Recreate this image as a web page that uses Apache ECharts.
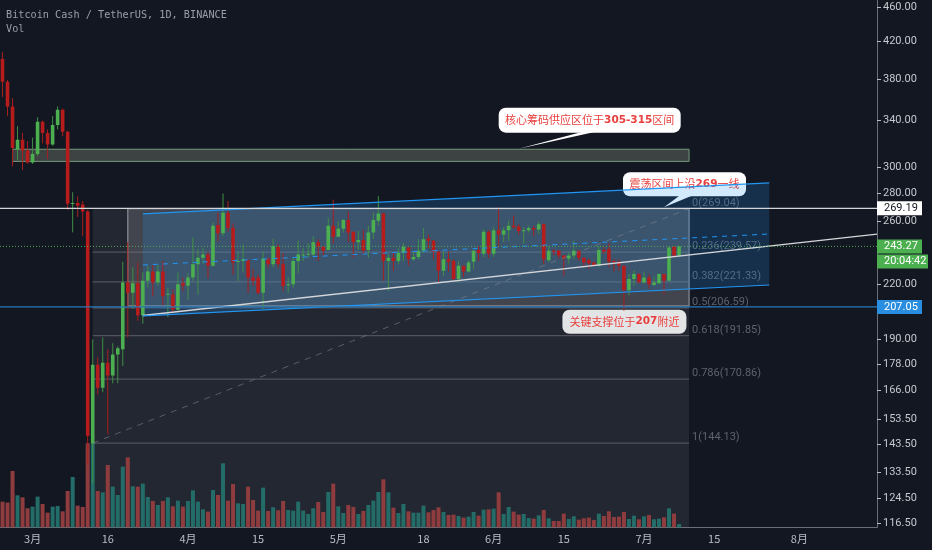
<!DOCTYPE html>
<html>
<head>
<meta charset="utf-8">
<style>html,body{margin:0;padding:0;background:#131722}#chart{width:932px;height:550px}</style>
<script src="https://cdn.jsdelivr.net/npm/echarts@6/dist/echarts.min.js"></script>
</head>
<body>
<div id="chart"></div>
<script>
// BCH/USDT daily, values
const opens = [400.5,377,353,315,323,314,304,311,339,329,319,336,350,330,272.5,273,272,267,144,177.5,167,178.5,172.5,182.5,185,221,215,220.5,202.5,222,227.5,221,227.5,214,214,205.5,220.5,219,224,232,236,238,231,257.5,252,266,255.5,233.5,234,234.5,224,224,215,235.5,232,243,232,219.5,220,234,237.5,238,238,246,243,241,257,249.5,255,261,253,246,247.5,241,252.5,260.5,265.5,234,236,234,239,242.5,235,236.5,240.5,248.5,247,240,228,235,234,223,231,227.5,233.5,241,238.5,253,238.5,254,251,254,257,256.5,253.5,254,255.5,254.5,258,234.5,240.5,240.5,237.5,235.5,237.5,240.5,236,234.5,233,231,241,241.5,234,233.5,231,216.5,223,226,221,224,219.5,220.5,226,222,243,237.5];
const highs = [408,379,361,335,329,322,325,343,340,332,344,353,351,331,281,278,274.5,268,190,181,191,185,188,186.5,233.5,246,230,233,227,231,231.5,231.5,234,218,217,227,224,226.5,249,241.5,242,240,259.5,266,280,274.5,258.5,240,244.5,234.8,229,226,240,236,248,244.5,239,224,236,247,242,245.5,250,248,243.5,262.5,275.5,260,261.5,267,253,253.5,254,257,266,278,266,238.5,239,242,245.5,243.5,240,248,255.5,251,247.5,240,240,240,235,234,231,234.5,241,243.5,254.5,254,256,270,256,260.5,264,258,256,257,257,260,258.5,243.5,241.5,241,237.5,239.5,247,240.5,236,235.5,233.5,243.5,243,245.5,235,235,231,226,228,226.5,227.5,226,224.5,226.5,226,243.5,243.5,244];
const lows = [362,344,301,306,298,303,303,309,320,307,318,332,326,268,252.5,263,250,136,129.5,164,165,147.5,169,169,177,191,206,199.5,198,218,213,219,208,201.5,204,205,216,211,222,214,232,223.5,230.5,246.5,250,253,225.5,221.8,227,215,219,214,206,229.5,230,229.5,216,215,218,226.5,234,236,237,234,237,241,245,249.5,252.5,246,236,241,238,236,248,257,222,216,228,232,234,231,234,235,239,242,235,221,225,227.5,222,221,224,227,229,234,236.5,236,236.5,242.5,246,247,255,251,245,252.5,250,251.5,232,233.5,237.5,235.5,225,232.5,235,234,231,229,230.5,230.5,238.5,230,227.5,228,205,213.5,219,221,220.5,217.5,219,220,214.5,222,236,236.5];
const closes = [377,353,316,323,314,304,311,339,329,319,336,350,330,272.5,273,271,267,147,177.5,167,178.5,172.5,182.5,185.5,221,215,220.5,202.5,222,227.5,221,227.5,213,214.5,205.5,220,219,224,232,236,238,231,257,252,266,255.5,233,234,235,224,222,215,235.5,232,243.5,232,219,220,234,238,238,238.5,246,243,240.5,257,249.5,255,261,252.5,246,247.5,240.5,252.5,261,265.5,234,236,234,239,243,235,236.5,240.5,248,247,240,228,235,233.5,223,231,227.5,233,240.5,239,253,238.5,254,251,254,257,256,253.5,254,255.5,254.5,258,235,240.5,240,237.5,235.5,237.5,240.5,236,233,232.5,231,241,240,233.5,233.5,231,216.5,223,226,221,224,220,221,226,222,242.5,237.5,243.27];
const volumes = [77,74,169,96,90,57,62,92,70,44,62,64,48,109,151,65,61,252,252,109,105,187,122,97,182,210,123,122,131,91,79,67,79,90,63,80,62,79,111,77,54,47,112,97,192,80,130,72,70,122,82,50,119,49,60,51,79,52,50,77,50,40,57,76,46,106,131,63,43,67,61,40,49,67,80,106,144,105,59,43,70,48,44,44,65,45,52,60,46,37,38,34,29,32,46,35,53,54,56,105,40,61,47,38,40,28,26,36,52,27,19,19,41,25,33,23,27,29,22,41,34,48,31,32,46,25,35,24,33,37,24,26,30,57,41,10];
const monthDays = [[2,24,29],[3,1,31],[4,1,30],[5,1,31],[6,1,30],[7,1,31],[8,1,16]];
const tickLabels = {'3-1':'3月','3-16':'16','4-1':'4月','4-15':'15','5-1':'5月','5-18':'18','6-1':'6月','6-15':'15','7-1':'7月','7-15':'15','8-1':'8月'};
const priceTicks = [460,420,380,340,300,280,260,220,190,178,166,153.5,143.5,133.5,124.5,116.5];
const fibRatios = ['0','0.236','0.382','0.5','0.618','0.786','1'];
const fibPrices = [269.04,239.57,221.33,206.59,191.85,170.86,144.13];
const supplyZone = [305,315];
const channelTop = [265.2,288];
const channelMid = [231.5,251.4];
const channelBottom = [202.2,219.5];
const trendLine = [202.4,237.8];
const highLevel = 269.19;
const lastPrice = 243.27;
const supportLevel = 207.05;
const countdown = '20:04:42';

const FIB_START = 18, RECT_START = 25, CHANNEL_START = 28, DRAW_END = 137, CHANNEL_END = 153;
const UP = '#4caf50', DOWN = '#b71c1c', UP_WICK = '#3f8f45', DOWN_WICK = '#a81f1f';
const MONO = '"DejaVu Sans Mono", monospace';
const AXIS_FONT = 'Roboto, sans-serif';
const CJK = '"Noto Sans CJK SC", sans-serif';

const categories = [];
monthDays.forEach(m => {
  for (let d = m[1]; d <= m[2]; d++) categories.push(m[0] + '-' + d);
});

function line(api, a, b, style) {
  const p = api.coord(a), q = api.coord(b);
  return {type: 'line', shape: {x1: p[0], y1: p[1], x2: q[0], y2: q[1]}, style: Object.assign({fill: null}, style)};
}

function box(api, x1, x2, priceA, priceB, style) {
  const p = api.coord([x1, priceA]), q = api.coord([x2, priceB]);
  return {type: 'rect', shape: {x: p[0], y: p[1], width: q[0] - p[0], height: q[1] - p[1]}, style: style};
}

function callout(tip, rect, base, fill, text) {
  const els = [];
  if (base) {
    els.push({type: 'polygon', shape: {points: [[tip[0] + base[0], tip[1] + rect[1] + rect[3] - 1], [tip[0] + base[1], tip[1] + rect[1] + rect[3] - 1], tip]}, style: {fill: fill}});
  }
  els.push({type: 'rect', shape: {x: tip[0] + rect[0], y: tip[1] + rect[1], width: rect[2], height: rect[3], r: 7}, style: {fill: fill}});
  els.push({type: 'text', style: {
    x: tip[0] + rect[0] + rect[2] / 2, y: tip[1] + rect[1] + rect[3] / 2,
    text: text, align: 'center', verticalAlign: 'middle',
    rich: {
      a: {font: '11px ' + CJK, fill: '#e8403c'},
      b: {font: 'bold 10.5px "DejaVu Sans", sans-serif', fill: '#e8403c'}
    }
  }});
  return els;
}

// everything that sits behind the candles
function renderBack(params, api) {
  const cs = params.coordSys;
  const children = [];
  const fibLeft = api.coord([FIB_START, highLevel]);
  const right = api.coord([DRAW_END, highLevel]);
  children.push({type: 'rect', shape: {x: fibLeft[0], y: right[1], width: right[0] - fibLeft[0], height: cs.y + cs.height - right[1]}, style: {fill: 'rgba(255,255,255,0.07)'}});
  children.push(box(api, RECT_START, DRAW_END, fibPrices[0], supportLevel + 0.6, {fill: 'rgba(255,255,255,0.14)', stroke: '#85878d', lineWidth: 1.3}));
  fibPrices.forEach((p, i) => {
    if (i > 0) children.push(line(api, [FIB_START, p], [DRAW_END, p], {stroke: 'rgba(125,127,135,0.5)', lineWidth: 1.2}));
    const c = api.coord([DRAW_END, p]);
    children.push({type: 'text', style: {x: c[0] + 3, y: c[1] - 5.5, text: fibRatios[i] + '(' + p.toFixed(2) + ')', font: '11px ' + AXIS_FONT, fill: '#5e626c', align: 'left', verticalAlign: 'middle'}});
  });
  children.push(box(api, 2, DRAW_END, supplyZone[1], supplyZone[0], {fill: 'rgba(140,150,125,0.35)', stroke: '#76997a', lineWidth: 1}));

  children.push(...callout(api.coord([103, 315.5]), [-20, -41, 182, 25], [64, 77], '#ffffff',
    '{a|核心筹码供应区位于}{b|305-315}{a|区间}'));
  children.push(...callout(api.coord([132, 270]), [-41, -35, 123, 24], [16, 29], '#ffffff',
    '{a|震荡区间上沿}{b|269}{a|一线}'));
  children.push(...callout(api.coord([124, 205]), [-61.5, -1, 124, 24], null, '#e3e4e5',
    '{a|关键支撑位于}{b|207}{a|附近}'));

  // rising channel goes over the callouts
  children.push({type: 'polygon', shape: {points: [
    api.coord([CHANNEL_START, channelTop[0]]), api.coord([CHANNEL_END, channelTop[1]]),
    api.coord([CHANNEL_END, channelBottom[1]]), api.coord([CHANNEL_START, channelBottom[0]])
  ]}, style: {fill: 'rgba(33,150,243,0.2)'}});
  return {type: 'group', children: children};
}

function renderCandle(params, api) {
  const x = api.value(0), o = api.value(1), c = api.value(2), l = api.value(3), h = api.value(4);
  const up = c >= o;
  const top = api.coord([x, Math.max(o, c)]), bottom = api.coord([x, Math.min(o, c)]);
  const hi = api.coord([x, h]), lo = api.coord([x, l]);
  const w = 3.6;
  return {type: 'group', children: [
    {type: 'line', shape: {x1: hi[0], y1: hi[1], x2: lo[0], y2: lo[1]}, style: {stroke: up ? UP_WICK : DOWN_WICK, lineWidth: 1}},
    {type: 'rect', shape: {x: top[0] - w / 2, y: top[1], width: w, height: Math.max(bottom[1] - top[1], 1)}, style: {fill: up ? UP : DOWN}}
  ]};
}

// lines and price badges on top of the candles
function renderFront(params, api) {
  const cs = params.coordSys;
  const right = cs.x + cs.width;
  const children = [];
  const leftP = api.coord([CHANNEL_START, trendLine[0]]), rightP = api.coord([DRAW_END, trendLine[1]]);
  const slope = (rightP[1] - leftP[1]) / (rightP[0] - leftP[0]);
  children.push({type: 'line', shape: {x1: leftP[0], y1: leftP[1], x2: right, y2: leftP[1] + slope * (right - leftP[0])}, style: {stroke: '#d4d6da', lineWidth: 1.3}});
  children.push(line(api, [FIB_START, fibPrices[6]], [DRAW_END, fibPrices[0]], {stroke: 'rgba(135,137,142,0.55)', lineWidth: 1, lineDash: [6, 6]}));
  children.push(line(api, [CHANNEL_START, channelTop[0]], [CHANNEL_END, channelTop[1]], {stroke: '#2196f3', lineWidth: 1.2}));
  children.push(line(api, [CHANNEL_START, channelBottom[0]], [CHANNEL_END, channelBottom[1]], {stroke: '#2196f3', lineWidth: 1.2}));
  children.push(line(api, [CHANNEL_START, channelMid[0]], [CHANNEL_END, channelMid[1]], {stroke: '#2196f3', lineWidth: 1, lineDash: [5, 5]}));

  const hy = api.coord([0, highLevel])[1], ly = api.coord([0, lastPrice])[1], sy = api.coord([0, supportLevel])[1];
  children.push({type: 'line', shape: {x1: cs.x, y1: hy, x2: right, y2: hy}, style: {stroke: '#d4d6da', lineWidth: 1.3}});
  children.push({type: 'line', shape: {x1: cs.x, y1: ly, x2: right, y2: ly}, style: {stroke: '#4caf50', lineWidth: 1, lineDash: [1, 2]}});
  children.push({type: 'line', shape: {x1: cs.x, y1: sy, x2: right, y2: sy}, style: {stroke: '#2a78b8', lineWidth: 1.2}});

  const badge = (y, w, fill, color, text) => {
    children.push({type: 'rect', shape: {x: right, y: y - 7, width: w, height: 14}, style: {fill: fill}});
    children.push({type: 'text', style: {x: right + 7, y: y, text: text, font: '11px ' + AXIS_FONT, fill: color, align: 'left', verticalAlign: 'middle'}});
  };
  badge(hy, 45, '#ffffff', '#131722', highLevel.toFixed(2));
  badge(ly, 45, UP, '#ffffff', lastPrice.toFixed(2));
  badge(ly + 15, 51, UP, '#ffffff', countdown);
  badge(sy, 45, '#2a8ee0', '#ffffff', supportLevel.toFixed(2));
  return {type: 'group', children: children};
}

const chart = echarts.init(document.getElementById('chart'));
const candleRows = opens.map((o, i) => [i, o, closes[i], lows[i], highs[i]]);
const volumeRows = volumes.map((v, i) => ({
  value: v,
  itemStyle: {color: closes[i] >= opens[i] ? '#246c68' : '#8f3c3e'}
}));

chart.setOption({
  animation: false,
  backgroundColor: '#131722',
  title: {
    text: 'Bitcoin Cash / TetherUS, 1D, BINANCE',
    subtext: 'Vol',
    left: 6, top: 9, itemGap: 2, padding: 0,
    textStyle: {fontFamily: MONO, fontSize: 10.2, fontWeight: 'normal', color: '#9a9ea8', lineHeight: 12},
    subtextStyle: {fontFamily: MONO, fontSize: 10.2, color: '#9a9ea8', lineHeight: 12}
  },
  grid: {left: -1.3, right: 55, top: 0, bottom: 22.7},
  xAxis: {
    type: 'category',
    data: categories,
    axisLine: {lineStyle: {color: '#6b6e76'}},
    axisTick: {alignWithLabel: true, length: 4, lineStyle: {color: '#6b6e76'}, interval: (i, v) => !!tickLabels[v]},
    axisLabel: {
      interval: (i, v) => !!tickLabels[v],
      formatter: v => tickLabels[v] || '',
      color: '#b9bcc4', fontSize: 11, fontFamily: CJK, margin: 6
    },
    splitLine: {show: false}
  },
  yAxis: [{
    type: 'log',
    position: 'right',
    min: 115.2,
    max: 468.6,
    axisLine: {show: true, lineStyle: {color: '#6b6e76'}},
    axisTick: {show: true, length: 4, customValues: priceTicks, lineStyle: {color: '#b9bcc4'}},
    axisLabel: {customValues: priceTicks, formatter: v => Number(v).toFixed(2), color: '#c6c8cd', fontSize: 11, fontFamily: AXIS_FONT, margin: 6},
    splitLine: {show: false}
  }, {
    type: 'value',
    min: 0,
    max: 1582,
    show: false
  }],
  series: [
    {type: 'custom', z: 1, silent: true, data: [[0, 300]], renderItem: renderBack},
    {type: 'bar', z: 2, yAxisIndex: 1, barWidth: 4, silent: true, data: volumeRows},
    {type: 'custom', z: 3, silent: true, clip: true, encode: {x: 0, y: [1, 2, 3, 4]}, data: candleRows, renderItem: renderCandle},
    {type: 'custom', z: 4, silent: true, data: [[0, 300]], renderItem: renderFront}
  ]
});
</script>
</body>
</html>
